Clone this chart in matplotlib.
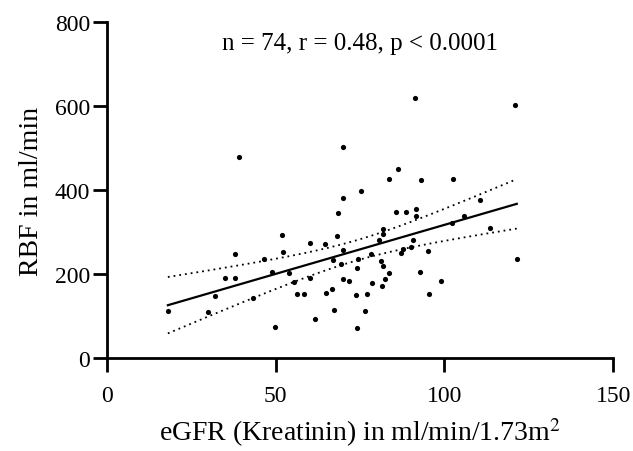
import numpy as np
import matplotlib
matplotlib.use("Agg")
import matplotlib.pyplot as plt

plt.rcParams['font.family'] = ['Liberation Serif', 'DejaVu Serif']
plt.rcParams['mathtext.fontset'] = 'stix'

# eGFR (x) and RBF (y)
egfr = [18.1, 30.1, 32.2, 34.9, 38.1, 38.1, 39.1, 43.2, 46.5, 48.8,
        49.8, 51.9, 52.2, 54.1, 55.3, 56.4, 58.5, 60.1, 60.2, 61.6,
        64.6, 64.8, 66.8, 66.9, 67.4, 68.2, 68.5, 69.4, 69.9, 69.9,
        70.1, 70.1, 71.7, 73.7, 74.2, 74.2, 74.5, 75.4, 76.4, 77.2,
        78.3, 78.4, 80.6, 81.1, 81.6, 81.8, 81.9, 81.9, 82.3, 83.5,
        83.7, 85.6, 86.1, 87.1, 87.7, 88.6, 90.2, 90.8, 91.2, 91.7,
        91.7, 92.8, 92.9, 95.0, 95.3, 99.1, 102.1, 102.4, 105.8, 110.5,
        113.4, 121.0, 121.4]
rbf = [112, 110, 149, 192, 192, 249, 478, 144, 237, 206,
       74, 294, 253, 202, 181, 154, 154, 191, 274, 93,
       272, 155, 164, 234, 114, 290, 346, 223, 503, 381,
       257, 188, 184, 150, 73, 215, 237, 397, 112, 154,
       247, 179, 281, 232, 172, 219, 308, 296, 188, 202,
       425, 348, 449, 250, 260, 348, 264, 280, 618, 354,
       337, 206, 423, 256, 154, 184, 321, 427, 338, 375,
       310, 602, 237]

x = np.array(egfr)
y = np.array(rbf)

# linear fit with 95% confidence band
slope, icpt = np.polyfit(x, y, 1)
n = len(x)
resid = y - (slope * x + icpt)
s = np.sqrt(np.sum(resid ** 2) / (n - 2))
t = 1.994
xx = np.linspace(x.min(), x.max(), 200)
yy = slope * xx + icpt
se = s * np.sqrt(1 / n + (xx - x.mean()) ** 2 / np.sum((x - x.mean()) ** 2))

fig = plt.figure(figsize=(6.33, 4.52), dpi=100)
ax = fig.add_axes([0.1686, 0.205, 0.8004, 0.745])

ax.scatter(x, y, s=14, color='black', zorder=3, linewidths=0)
ax.plot(xx, yy, color='black', lw=1.6)
ax.plot(xx, yy + t * se, color='black', lw=1.3, ls=(0, (1, 2.2)))
ax.plot(xx, yy - t * se, color='black', lw=1.3, ls=(0, (1, 2.2)))

ax.set_xlim(0, 150)
ax.set_ylim(0, 800)
ax.set_xticks([0, 50, 100, 150])
ax.set_yticks([0, 200, 400, 600, 800])

for sp in ['top', 'right']:
    ax.spines[sp].set_visible(False)
for sp in ['left', 'bottom']:
    ax.spines[sp].set_linewidth(2)
ax.tick_params(width=2, length=10, labelsize=17, pad=2)
ax.tick_params(axis='x', pad=9)

ax.set_xlabel('eGFR (Kreatinin) in ml/min/1.73m$^2$', fontsize=20, labelpad=7)
ax.set_ylabel('RBF in ml/min', fontsize=20, labelpad=8)

ax.text(0.5, 0.936, 'n = 74, r = 0.48, p < 0.0001', transform=ax.transAxes,
        ha='center', va='center', fontsize=18)

fig.savefig('out.png', dpi=100)
